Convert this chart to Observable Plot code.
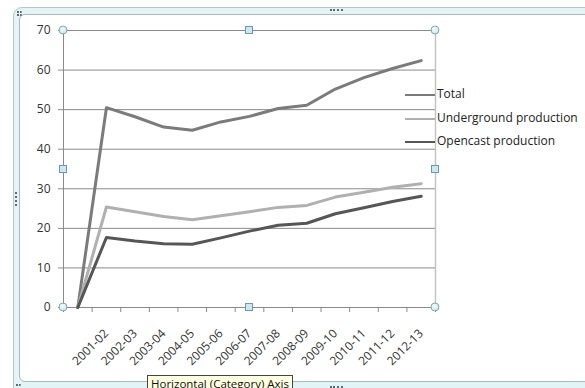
<!DOCTYPE html>
<html>
<head>
<meta charset="utf-8">
<script src="https://cdn.jsdelivr.net/npm/d3@7"></script>
<script src="https://cdn.jsdelivr.net/npm/@observablehq/plot@0.6"></script>
<style>
  html, body { margin: 0; padding: 0; background: #fff; }
  #wrap { position: relative; width: 585px; height: 388px; overflow: hidden; font-family: "Open Sans", sans-serif; }
  .abs { position: absolute; }
  .frameOuter { left: 13px; top: 7px; width: 600px; height: 400px; background: #e3f4f6; border: 1px solid #b5c6c9; border-radius: 9px 0 0 0; box-sizing: border-box; }
  .frameInner { left: 19px; top: 14px; width: 600px; height: 368px; background: #fff; border: 1px solid #a9b9bc; border-radius: 6px 0 0 6px; box-sizing: border-box; }
  .circ { width: 9px; height: 9px; border-radius: 50%; border: 1px solid #86a7b3; background: radial-gradient(circle at 40% 35%, #f3fbfd, #bfe2ec); box-sizing: border-box; transform: translate(-50%, -50%); }
  .sq { width: 8px; height: 8px; border: 1px solid #6d99ac; background: #cbe7f1; box-sizing: border-box; transform: translate(-50%, -50%); }
  .legrow { position: absolute; left: 405px; height: 20px; }
  .legline { position: absolute; left: 0; width: 30px; height: 2px; }
  .legtext { position: absolute; left: 32px; font-size: 12px; color: #222; white-space: nowrap; line-height: 16px; }
  .tip { left: 147px; top: 375px; padding: 0 3px; border: 1px solid #444; background: #ffffe1; font-size: 11.5px; color: #111; line-height: 16px; white-space: nowrap; }
  .dotsH { height: 0; border-top: 2px dotted #5c6b70; }
  .dotsV { width: 0; border-left: 2px dotted #5c6b70; }
</style>
</head>
<body>
<div id="wrap">
  <div class="abs frameOuter"></div>
  <div class="abs frameInner"></div>
  <div class="abs dotsH" style="left:330px;top:9px;width:13px;"></div>
  <div class="abs dotsH" style="left:330px;top:386px;width:13px;"></div>
  <div class="abs dotsV" style="left:15px;top:192px;height:14px;"></div>
  <div class="abs dotsH" style="left:17px;top:11px;width:5px;"></div>
  <div class="abs dotsH" style="left:17px;top:14px;width:5px;"></div>
  <div class="abs dotsH" style="left:16px;top:384px;width:5px;"></div>
  <div id="chart" class="abs" style="left:0;top:0;"></div>
  <div id="legend"></div>
  <div id="handles"></div>
  <div class="abs tip">Horizontal (Category) Axis</div>
</div>
<script>
const categories = ["", "2001-02", "2002-03", "2003-04", "2004-05", "2005-06", "2006-07", "2007-08", "2008-09", "2009-10", "2010-11", "2011-12", "2012-13"];
const total       = [0, 50.5, 48.2, 45.6, 44.8, 46.9, 48.3, 50.3, 51.1, 55.2, 58.1, 60.4, 62.4];
const underground = [0, 25.4, 24.2, 23.0, 22.2, 23.2, 24.2, 25.3, 25.8, 27.9, 29.1, 30.4, 31.3];
const opencast    = [0, 17.7, 16.8, 16.1, 16.0, 17.6, 19.3, 20.8, 21.3, 23.7, 25.2, 26.8, 28.1];
const seriesNames = ["Total", "Underground production", "Opencast production"];
const seriesColors = ["#7b7b7b", "#b0b0b0", "#565656"];
const yTicks = [0, 10, 20, 30, 40, 50, 60, 70];

const seriesValues = [total, underground, opencast];
const rows = [];
seriesValues.forEach((vals, s) => vals.forEach((v, i) => rows.push({series: seriesNames[s], i, v})));
const idx = categories.map((c, i) => i);
const labelIdx = idx.filter(i => categories[i] !== "");
const bounds = [-0.5, ...idx.map(i => i + 0.5)];

const W = 585, H = 388;
const mL = 63, mR = 150, mT = 30, mB = 81;

const chart = Plot.plot({
  width: W, height: H,
  marginLeft: mL, marginRight: mR, marginTop: mT, marginBottom: mB,
  style: {background: "transparent", fontFamily: "'Open Sans', sans-serif"},
  x: {type: "linear", domain: [-0.5, categories.length - 0.5], axis: null},
  y: {domain: [0, 70], axis: null},
  color: {domain: seriesNames, range: seriesColors},
  marks: [
    Plot.gridY(yTicks.slice(1), {stroke: "#8a8a8a", strokeOpacity: 1}),
    Plot.ruleX([categories.length - 0.5], {stroke: "#c4c4c4", strokeWidth: 1.5}),
    Plot.ruleX([-0.5], {stroke: "#8a8a8a"}),
    Plot.ruleY([0], {stroke: "#8a8a8a"}),
    Plot.axisY({ticks: yTicks, tickSize: 5, tickPadding: 8, fontSize: 12, stroke: "#8a8a8a", fill: "#333", label: null}),
    Plot.axisX({ticks: bounds, tickSize: 5, tickFormat: () => "", stroke: "#8a8a8a", label: null}),
    Plot.text(labelIdx, {x: d => d, y: 0, text: d => categories[d], rotate: -45, textAnchor: "end", dy: 24, fontSize: 12, fill: "#333"}),
    Plot.line(rows, {x: "i", y: "v", z: "series", stroke: "series", strokeWidth: 3, strokeLinejoin: "round", strokeLinecap: "round"})
  ]
});
document.getElementById("chart").appendChild(chart);

// legend
const legend = document.getElementById("legend");
const legTops = [86, 110, 133];
seriesNames.forEach((n, k) => {
  const row = document.createElement("div");
  row.className = "legrow";
  row.style.top = legTops[k] + "px";
  row.innerHTML = `<div class="legline" style="top:8px;background:${seriesColors[k]}"></div><div class="legtext">${n}</div>`;
  legend.appendChild(row);
});

// selection handles at plot area corners / midpoints
const x0 = mL, x1 = W - mR, y0 = mT, y1 = H - mB;
const hs = document.getElementById("handles");
[[x0, y0], [x1, y0], [x0, y1], [x1, y1]].forEach(([x, y]) => {
  const d = document.createElement("div"); d.className = "abs circ"; d.style.left = x + "px"; d.style.top = y + "px"; hs.appendChild(d);
});
[[(x0 + x1) / 2, y0], [(x0 + x1) / 2, y1], [x0, (y0 + y1) / 2], [x1, (y0 + y1) / 2]].forEach(([x, y]) => {
  const d = document.createElement("div"); d.className = "abs sq"; d.style.left = x + "px"; d.style.top = y + "px"; hs.appendChild(d);
});
</script>
</body>
</html>
